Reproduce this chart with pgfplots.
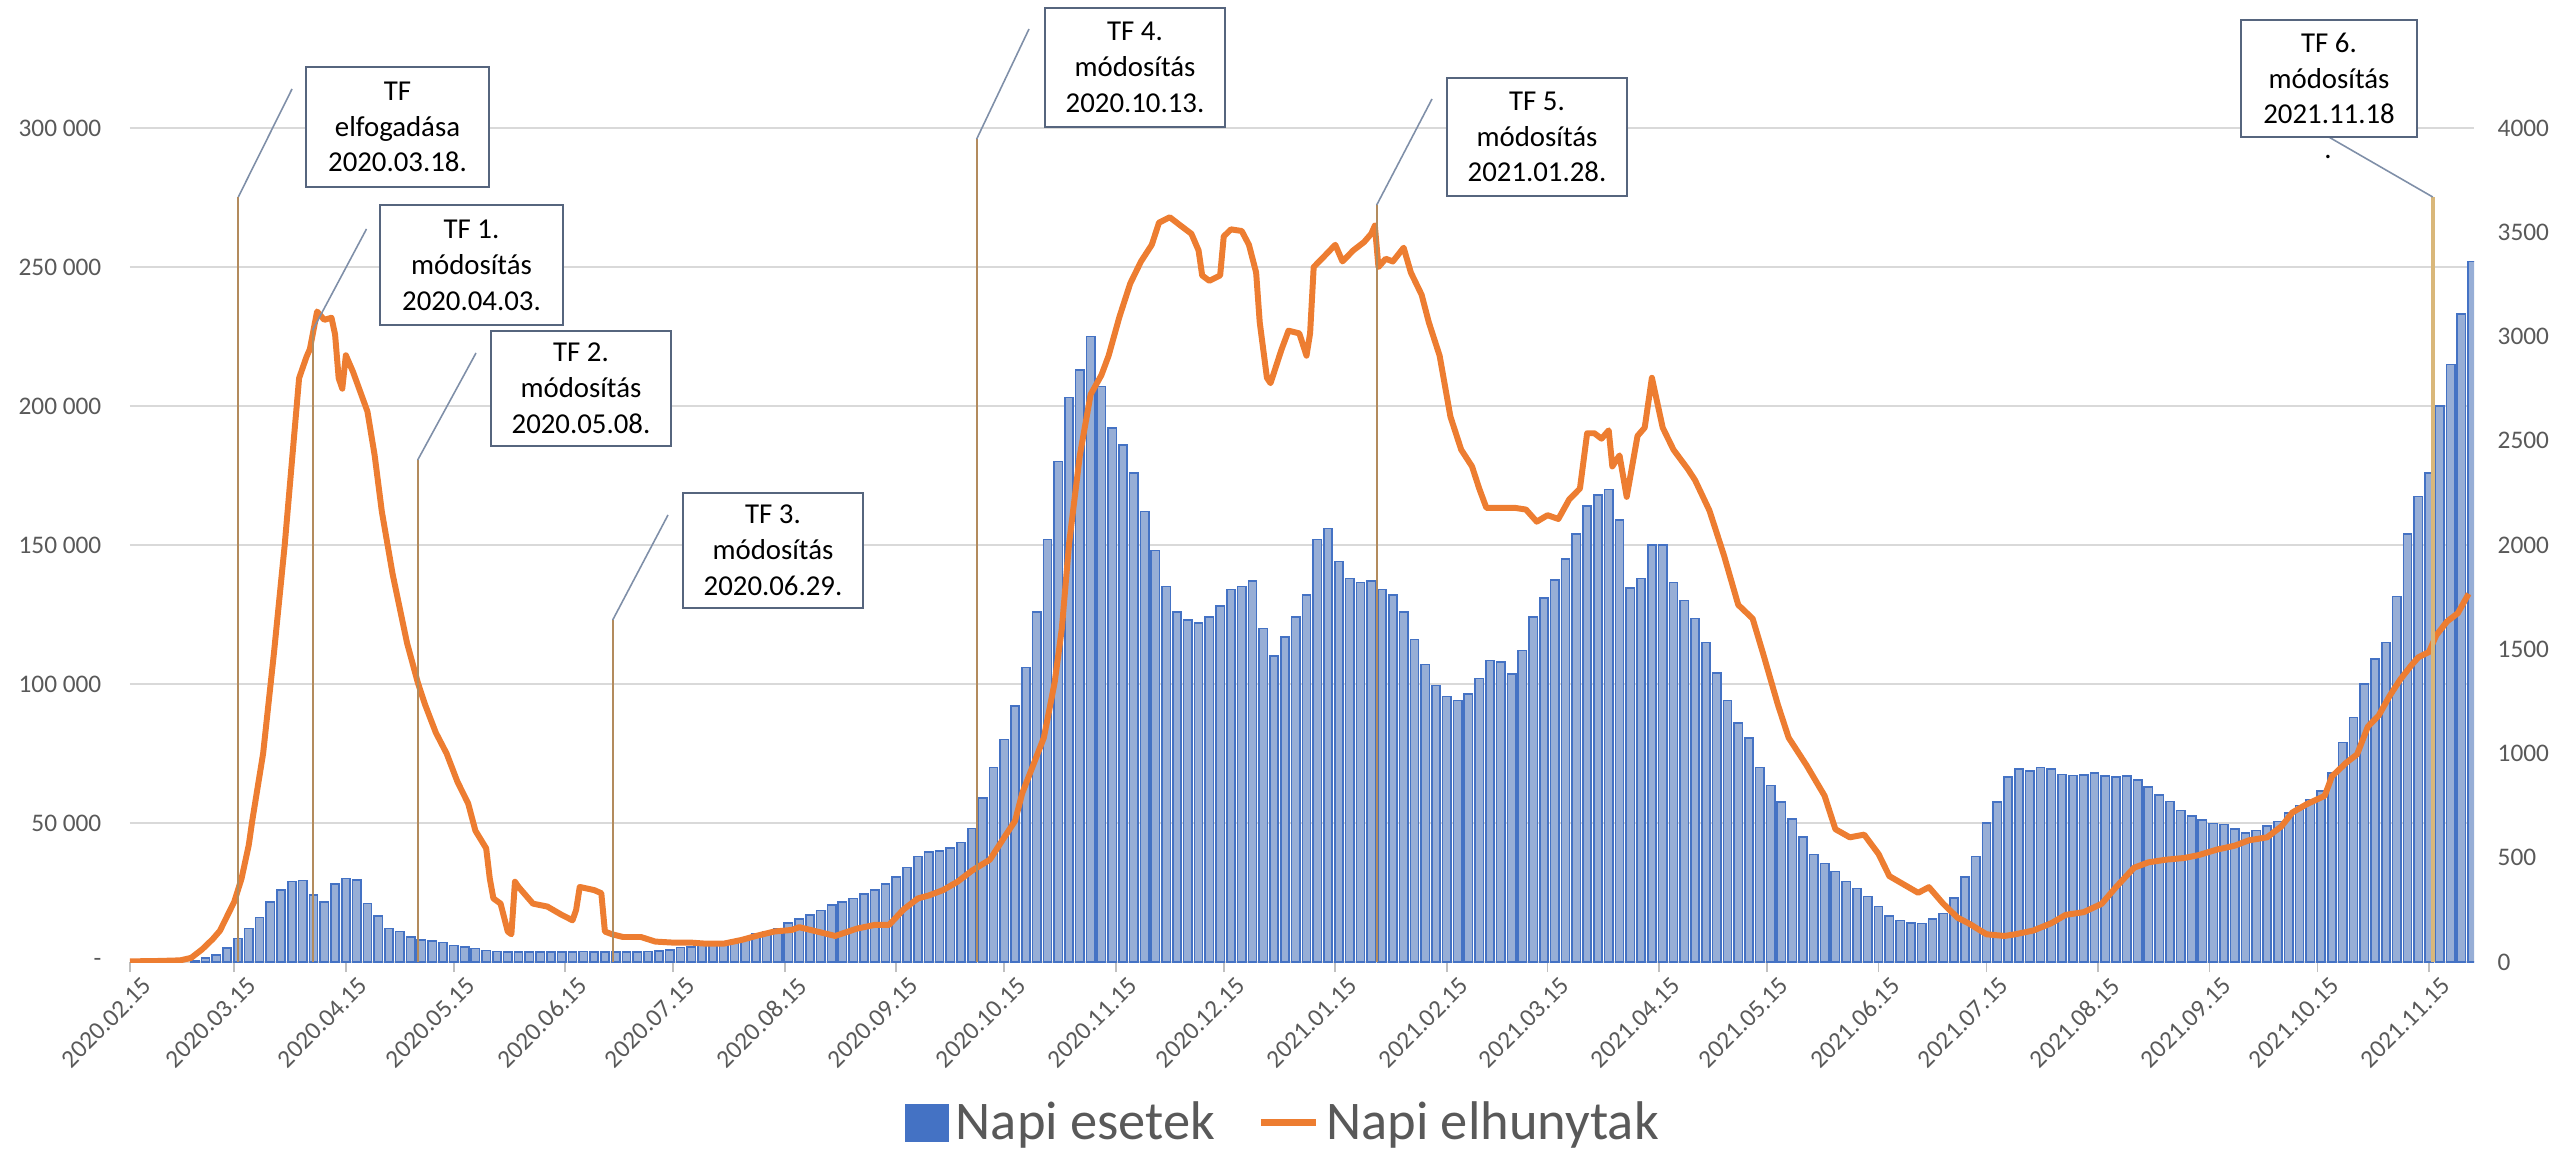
\documentclass[border=0pt]{standalone}
\usepackage{fontspec}
\setmainfont{Carlito}
\usepackage{pgfplots}
\pgfplotsset{compat=1.18}
\usepackage{pgfplotstable}

\definecolor{barblue}{HTML}{4472C4}
\definecolor{barfill}{HTML}{97AED6}
\definecolor{deathorange}{HTML}{ED7D31}
\definecolor{labelgray}{HTML}{595959}
\definecolor{gridgray}{HTML}{D9D9D9}
\definecolor{tickgray}{HTML}{BFBFBF}
\definecolor{markline}{HTML}{B38B5D}
\definecolor{markline7}{HTML}{D9B77A}
\definecolor{leader}{HTML}{7F8FA8}
\definecolor{boxedge}{HTML}{56657E}

% napi esetek (day = days since 2020.02.15)
\pgfplotstableread{
day cases
18 500
21 1500
24 2500
27 5000
30 8500
33 12000
36 16000
39 21500
42 26000
45 29000
48 29300
51 24000
54 21500
57 28000
60 30000
63 29500
66 21000
69 16500
72 12000
75 11000
78 9000
81 8000
84 7600
87 7000
90 6000
93 5300
96 4800
99 4200
102 3800
105 3700
108 3600
111 3600
114 3500
117 3600
120 3700
123 3700
126 3800
129 3700
132 3700
135 3600
138 3600
141 3700
144 3800
147 4000
150 4300
153 5200
156 5500
159 6000
162 6400
165 7000
168 7700
171 8800
174 10000
177 11000
180 12000
183 14000
186 15500
189 17000
192 18500
195 20500
198 21500
201 22800
204 24500
207 26000
210 28000
213 30500
216 34000
219 38000
222 39500
225 40000
228 41000
231 43000
234 48000
237 59000
240 70000
243 80000
246 92000
249 106000
252 126000
255 152000
258 180000
261 203000
264 213000
267 225000
270 207000
273 192000
276 186000
279 176000
282 162000
285 148000
288 135000
291 126000
294 123000
297 122000
300 124000
303 128000
306 134000
309 135000
312 137000
315 120000
318 110000
321 117000
324 124000
327 132000
330 152000
333 156000
336 144000
339 138000
342 136500
345 137000
348 134000
351 132000
354 126000
357 116000
360 107000
363 99500
366 95500
369 94000
372 96500
375 102000
378 108500
381 108000
384 103500
387 112000
390 124000
393 131000
396 137500
399 145000
402 154000
405 164000
408 168000
411 170000
414 159000
417 134500
420 138000
423 150000
426 150000
429 136500
432 130000
435 123500
438 115000
441 104000
444 94000
447 86000
450 80500
453 70000
456 63500
459 57500
462 51500
465 45000
468 38700
471 35500
474 32500
477 29000
480 26500
483 23500
486 20000
489 16500
492 15000
495 14000
498 13900
501 15500
504 17500
507 23000
510 30500
513 38000
516 50000
519 57500
522 66500
525 69500
528 68700
531 70000
534 69500
537 67500
540 67100
543 67300
546 68000
549 67000
552 66500
555 67000
558 65500
561 63000
564 60000
567 57800
570 54500
573 52500
576 51000
579 49800
582 49500
585 47800
588 46500
591 47300
594 49000
597 50500
600 53500
603 56300
606 58500
609 61500
612 68000
615 79000
618 88000
621 100000
624 109000
627 115000
630 131500
633 154000
636 167500
639 176000
642 200000
645 215000
648 233000
651 252000
}\casestable

% napi elhunytak
\pgfplotstableread{
day deaths
0 3
8 5
14 8
17 20
20 60
23 110
25 150
27 220
29 290
31 400
33 560
34 680
37 1000
40 1480
43 2000
45 2400
47 2800
49 2900
50 2940
52 3120
54 3080
56 3090
57 3010
58 2800
59 2750
60 2910
62 2830
66 2640
68 2430
70 2160
73 1860
77 1530
80 1340
82 1235
85 1100
88 1000
91 865
94 760
96 630
99 545
100 400
101 305
103 280
105 146
106 133
107 385
108 360
112 280
116 266
120 226
123 200
124 250
125 360
129 345
131 330
132 146
134 133
137 120
142 120
146 98
151 93
156 93
160 88
165 88
170 106
174 125
179 146
184 154
186 167
191 146
196 125
202 160
207 178
211 178
215 252
219 305
222 319
226 345
230 385
234 438
239 491
243 598
246 677
248 810
251 943
254 1076
257 1341
259 1600
261 2005
264 2430
267 2722
270 2815
272 2908
275 3094
278 3254
281 3360
284 3440
286 3546
289 3572
292 3532
295 3493
297 3413
298 3293
300 3267
303 3293
304 3480
306 3514
309 3506
311 3440
313 3307
314 3068
316 2802
317 2776
320 2935
322 3028
325 3015
327 2908
328 3015
329 3333
332 3386
335 3440
337 3360
340 3413
343 3453
345 3493
346 3532
347 3333
349 3373
351 3360
354 3426
356 3307
359 3200
361 3068
364 2908
367 2616
370 2457
373 2377
375 2271
377 2178
381 2178
385 2178
388 2170
391 2112
394 2143
397 2125
400 2218
403 2271
405 2536
407 2536
409 2510
411 2550
412 2377
414 2430
416 2231
419 2523
421 2563
423 2802
426 2563
429 2457
433 2364
435 2311
439 2165
443 1952
447 1713
451 1647
454 1474
458 1235
461 1076
466 943
471 797
474 637
478 598
482 611
486 518
489 412
493 372
497 332
500 359
504 279
508 212
511 186
516 133
521 125
524 133
529 151
534 186
538 226
543 239
548 279
552 359
557 452
561 478
566 491
571 499
575 513
580 539
585 558
589 584
594 598
598 651
601 717
605 757
610 797
612 890
616 956
619 996
622 1129
625 1182
628 1275
631 1355
634 1421
636 1461
639 1487
641 1567
644 1633
647 1673
650 1766
}\deathstable

\begin{document}
\begin{tikzpicture}
\useasboundingbox (-1.30,-1.95) rectangle (24.22,9.62);

\begin{axis}[
    width=23.44cm, height=8.34cm, scale only axis,
    xmin=0, xmax=651.5, ymin=0, ymax=300000,
    enlargelimits=false,
    scaled y ticks=false,
    axis x line*=bottom, axis y line*=left,
    x axis line style={draw=gridgray, line width=0.5pt, -},
    y axis line style={draw=none},
    tick align=outside, major tick length=0.1cm,
    xtick={0,29,60,90,121,151,182,213,243,274,304,335,366,394,425,455,486,516,547,578,608,639},
    xticklabels={2020.02.15,2020.03.15,2020.04.15,2020.05.15,2020.06.15,2020.07.15,2020.08.15,2020.09.15,2020.10.15,2020.11.15,2020.12.15,2021.01.15,2021.02.15,2021.03.15,2021.04.15,2021.05.15,2021.06.15,2021.07.15,2021.08.15,2021.09.15,2021.10.15,2021.11.15},
    xtick style={draw=tickgray, line width=0.5pt},
    ytick={0,50000,100000,150000,200000,250000,300000},
    yticklabels={-,50~000,100~000,150~000,200~000,250~000,300~000},
    ytick style={draw=none},
    ymajorgrids, major grid style={draw=gridgray, line width=0.5pt},
    tick label style={font=\fontsize{7.2}{8}\selectfont, text=labelgray},
    xticklabel style={rotate=45, anchor=north east, inner sep=0pt, xshift=0.06cm, yshift=-0.1cm},
    yticklabel style={inner sep=0pt, xshift=-0.18cm},
]
\addplot[ybar, bar width=2.3, fill=barfill, draw=barblue, line width=0.45pt]
    table[x=day, y=cases]{\casestable};
\end{axis}

\begin{axis}[
    width=23.44cm, height=8.34cm, scale only axis,
    xmin=0, xmax=651.5, ymin=0, ymax=4000,
    enlargelimits=false,
    axis x line=none, axis y line*=right,
    y axis line style={draw=none},
    ytick={0,500,1000,1500,2000,2500,3000,3500,4000},
    yticklabels={0,500,1000,1500,2000,2500,3000,3500,4000},
    ytick style={draw=none},
    yticklabel style={font=\fontsize{7.2}{8}\selectfont, text=labelgray, inner sep=0pt, xshift=0.23cm},
    legend columns=2,
    legend style={at={(0.493,-0.193)}, anchor=center, draw=none, fill=none,
        font=\fontsize{15.5}{18}\selectfont, text=labelgray,
        /tikz/every even column/.append style={column sep=0.35cm}},
]
\addlegendimage{legend image code/.code={\fill[barblue] (0cm,-0.18cm) rectangle (0.42cm,0.18cm);}}
\addlegendentry{Napi esetek}
\addplot[deathorange, line width=1.7pt, line join=round,
    legend image code/.code={\draw[deathorange, line width=2pt] (0cm,0cm) -- (0.55cm,0cm);}]
    table[x=day, y=deaths]{\deathstable};
\addlegendentry{Napi elhunytak}
\end{axis}

% TF jelölések
\draw[markline, line width=0.6pt] (1.083,0) -- (1.083,7.65);
\draw[markline, line width=0.6pt] (1.827,0) -- (1.827,6.32);
\draw[markline, line width=0.6pt] (2.877,0) -- (2.877,5.02);
\draw[markline, line width=0.6pt] (4.827,0) -- (4.827,3.42);
\draw[markline, line width=0.6pt] (8.467,0) -- (8.467,8.23);
\draw[markline, line width=0.6pt] (12.467,0) -- (12.467,7.57);
\draw[markline7, line width=1.1pt] (23.027,0) -- (23.027,7.65);

\draw[leader, line width=0.45pt] (1.083,7.65) -- (1.62,8.73);
\draw[leader, line width=0.45pt] (1.827,6.32) -- (2.365,7.33);
\draw[leader, line width=0.45pt] (2.877,5.02) -- (3.46,6.09);
\draw[leader, line width=0.45pt] (4.827,3.42) -- (5.38,4.47);
\draw[leader, line width=0.45pt] (8.467,8.23) -- (8.99,9.33);
\draw[leader, line width=0.45pt] (12.467,7.57) -- (13.02,8.63);
\draw[leader, line width=0.45pt] (21.97,8.26) -- (23.027,7.65);

\tikzset{tfbox/.style={draw=boxedge, fill=white, line width=0.6pt, align=center,
    inner sep=0pt, font=\fontsize{8.2}{10.2}\selectfont, text=black}}
\node[tfbox, minimum width=1.83cm, minimum height=1.20cm] at (2.675,8.35) {TF\\elfogadása\\2020.03.18.};
\node[tfbox, minimum width=1.83cm, minimum height=1.20cm] at (3.415,6.97) {TF 1.\\módosítás\\2020.04.03.};
\node[tfbox, minimum width=1.80cm, minimum height=1.15cm] at (4.51,5.735) {TF 2.\\módosítás\\2020.05.08.};
\node[tfbox, minimum width=1.80cm, minimum height=1.15cm] at (6.43,4.115) {TF 3.\\módosítás\\2020.06.29.};
\node[tfbox, minimum width=1.80cm, minimum height=1.19cm] at (10.05,8.945) {TF 4.\\módosítás\\2020.10.13.};
\node[tfbox, minimum width=1.80cm, minimum height=1.18cm] at (14.07,8.25) {TF 5.\\módosítás\\2021.01.28.};
\node[tfbox, minimum width=1.76cm, minimum height=1.17cm] at (21.99,8.835) {TF 6.\\módosítás\\2021.11.18};
\node[font=\fontsize{8.2}{10}\selectfont, inner sep=0pt] at (21.98,8.05) {.};
\end{tikzpicture}
\end{document}
